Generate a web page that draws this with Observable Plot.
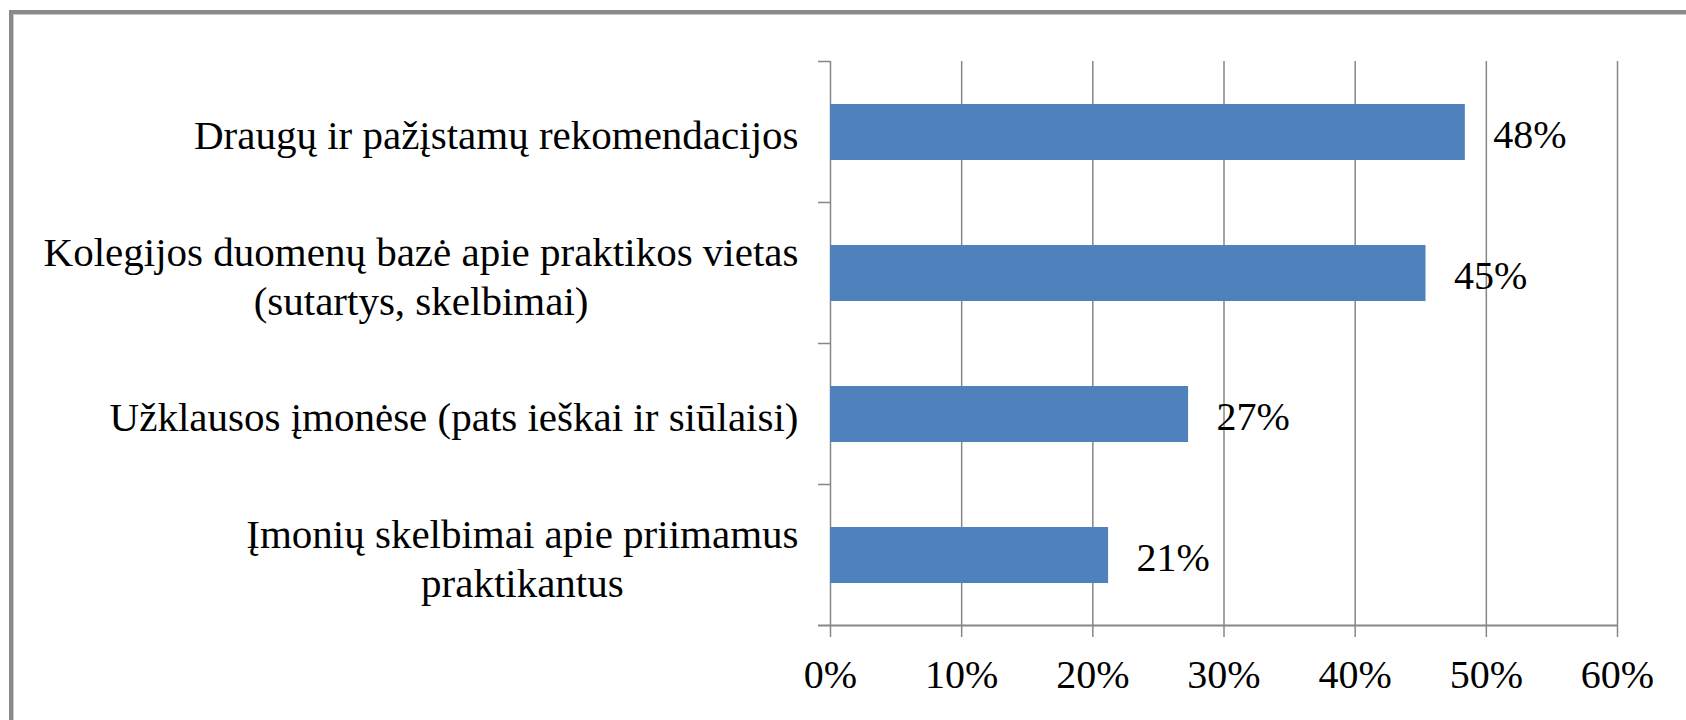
<!DOCTYPE html>
<html>
<head>
<meta charset="utf-8">
<script src="https://cdn.jsdelivr.net/npm/d3@7"></script>
<script src="https://cdn.jsdelivr.net/npm/@observablehq/plot@0.6"></script>
<style>
  html, body { margin: 0; padding: 0; background: #fff; overflow: hidden; }
  #wrap { position: relative; width: 1686px; height: 720px; }
  #frame {
    position: absolute; left: 9px; top: 10px; width: 1720px; height: 760px;
    border-left: 4px solid #8a8a8a; border-top: 4px solid #8a8a8a;
    box-shadow: inset 1px 1px 0 #c8c8c8; pointer-events: none;
  }
  #chart { position: absolute; left: 0; top: 0; }
</style>
</head>
<body>
<div id="wrap"><div id="frame"></div><div id="chart"></div></div>
<script>
const categories = [
  "Draugų ir pažįstamų rekomendacijos",
  "Kolegijos duomenų bazė apie praktikos vietas\n(sutartys, skelbimai)",
  "Užklausos įmonėse (pats ieškai ir siūlaisi)",
  "Įmonių skelbimai apie priimamus\npraktikantus"
];
const values = [0.484, 0.454, 0.273, 0.212];
const xTicks = [0, 0.1, 0.2, 0.3, 0.4, 0.5, 0.6];

const data = categories.map((c, i) => ({category: c, value: values[i]}));
const pct = d3.format(".0%");
const gray = "#878787";
const serif = "'Liberation Serif', 'Times New Roman', serif";

const boundaryTicks = (index, scales, vals, dims) => {
  const y = scales.y, x = scales.x;
  const n = categories.length;
  const step = typeof y.step === "function" ? y.step()
    : (dims.height - dims.marginTop - dims.marginBottom) / n;
  const bw = typeof y.bandwidth === "function" ? y.bandwidth() : 0;
  const x0 = x(0), x1 = x(xTicks[xTicks.length - 1]);
  const bounds = categories.map(c => y(c) + bw / 2 - step / 2);
  const bottom = y(categories[n - 1]) + bw / 2 + step / 2;
  const g = d3.create("svg:g").attr("stroke", gray).attr("fill", "none");
  g.selectAll("line.t").data(bounds).join("line").attr("class", "t")
    .attr("x1", x0 - 12).attr("x2", x0).attr("y1", d => d).attr("y2", d => d)
    .attr("stroke-width", 1.5);
  g.append("line").attr("x1", x0 - 12).attr("x2", x1)
    .attr("y1", bottom).attr("y2", bottom).attr("stroke-width", 2.2);
  return g.node();
};

const chart = Plot.plot({
  width: 1686,
  height: 720,
  marginLeft: 830,
  marginRight: 69,
  marginTop: 61,
  marginBottom: 94,
  style: {fontFamily: serif, fontSize: "40px", color: "#000", background: "transparent"},
  x: {domain: [0, 0.6], axis: null, label: null},
  y: {domain: categories, paddingInner: 0.6, paddingOuter: 0.3, axis: null, label: null},
  marks: [
    Plot.gridX({ticks: xTicks, stroke: gray, strokeOpacity: 1, strokeWidth: 1.5}),
    Plot.barX(data, {x: "value", y: "category", fill: "#4f81bd"}),
    boundaryTicks,
    Plot.axisX({ticks: xTicks, tickFormat: pct, label: null, tickSize: 11, tickPadding: 22, stroke: gray, strokeWidth: 1.5, fontSize: 40, fontFamily: serif, fill: "#000"}),
    Plot.text(data, {x: 0, y: "category", text: "category", textAnchor: "end", dx: -32, dy: 1, fontSize: 41, fontFamily: serif, lineHeight: 1.2, fill: "#000"}),
    Plot.text(data, {x: "value", y: "category", text: d => pct(d.value), textAnchor: "start", dx: 28, dy: 3, fontSize: 40, fontFamily: serif, fill: "#000"})
  ]
});

document.getElementById("chart").appendChild(chart);

// center the lines of multi-line category labels within their right-aligned block
chart.querySelectorAll("text").forEach(t => {
  const spans = t.querySelectorAll("tspan");
  if (spans.length > 1) {
    const w = Array.from(spans, s => s.getComputedTextLength());
    const maxW = Math.max(...w);
    spans.forEach((s, i) => s.setAttribute("x", -(maxW - w[i]) / 2));
  }
});
</script>
</body>
</html>
